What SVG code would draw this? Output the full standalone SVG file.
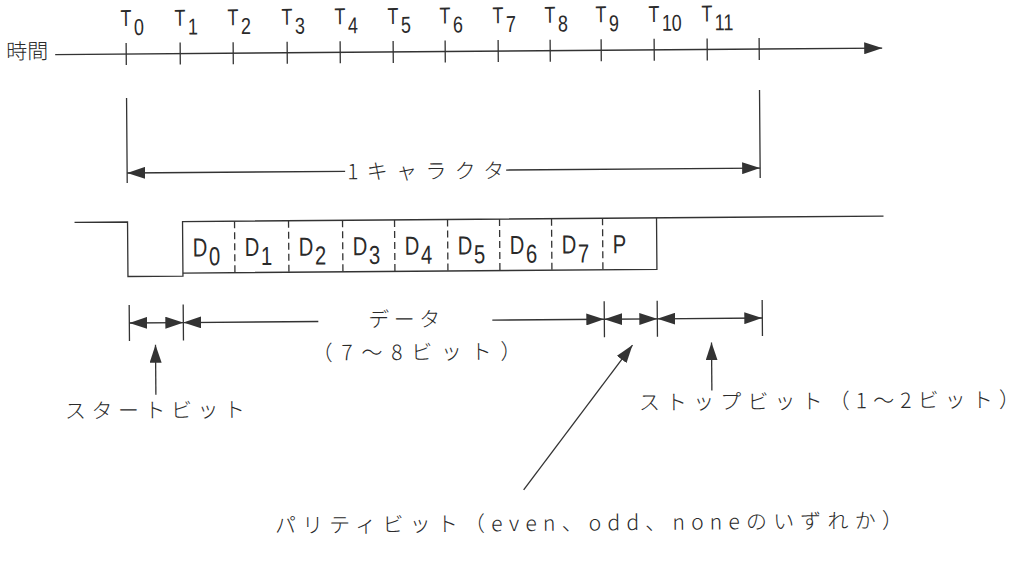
<svg xmlns="http://www.w3.org/2000/svg" width="1021" height="563" viewBox="0 0 1021 563">
<defs>
<marker id="ah" viewBox="0 0 18 12" refX="18" refY="6" markerWidth="18" markerHeight="12" markerUnits="userSpaceOnUse" orient="auto-start-reverse"><path d="M0,0 L18,6 L0,12 z" fill="#333"/></marker>
</defs>
<style>
.ln{stroke:#333;stroke-width:1.3;fill:none}
.dash{stroke:#333;stroke-width:1.3;stroke-dasharray:7 4;fill:none}
.arr{stroke:#333;stroke-width:1.3;fill:none;marker-end:url(#ah)}
.arr2{stroke:#333;stroke-width:1.3;fill:none;marker-start:url(#ah);marker-end:url(#ah)}
.arrs{stroke:#333;stroke-width:1.3;fill:none;marker-start:url(#ah)}
.jp{font-family:"Noto Sans CJK JP","Noto Sans",sans-serif;font-size:21px;font-weight:300;fill:#2a2a2a}
.tl{font-family:"Liberation Sans",Arial,sans-serif;font-size:23px;fill:#2a2a2a}
</style>
<rect width="1021" height="563" fill="#fff"/>
<g transform="rotate(-0.45 510 280)">
<g id="time-axis">
<text class="jp" x="8" y="55" textLength="42" lengthAdjust="spacingAndGlyphs">時間</text>
<path class="ln" d="M128,40V62M182,40V62M235,40V62M289,40V62M342,40V62M395,40V62M447,40V62M500,40V62M552,40V62M603,40V62M656,40V62M709,40V62M761,40V62"/>
</g>
<g id="time-labels">
<text class="tl" transform="translate(128 0) scale(.78 1)" x="-7" y="23">T<tspan dy="9" dx="3">0</tspan></text>
<text class="tl" transform="translate(182 0) scale(.78 1)" x="-7" y="23">T<tspan dy="9" dx="3">1</tspan></text>
<text class="tl" transform="translate(235 0) scale(.78 1)" x="-7" y="23">T<tspan dy="9" dx="3">2</tspan></text>
<text class="tl" transform="translate(289 0) scale(.78 1)" x="-7" y="23">T<tspan dy="9" dx="3">3</tspan></text>
<text class="tl" transform="translate(342 0) scale(.78 1)" x="-7" y="23">T<tspan dy="9" dx="3">4</tspan></text>
<text class="tl" transform="translate(395 0) scale(.78 1)" x="-7" y="23">T<tspan dy="9" dx="3">5</tspan></text>
<text class="tl" transform="translate(447 0) scale(.78 1)" x="-7" y="23">T<tspan dy="9" dx="3">6</tspan></text>
<text class="tl" transform="translate(500 0) scale(.78 1)" x="-7" y="23">T<tspan dy="9" dx="3">7</tspan></text>
<text class="tl" transform="translate(552 0) scale(.78 1)" x="-7" y="23">T<tspan dy="9" dx="3">8</tspan></text>
<text class="tl" transform="translate(603 0) scale(.78 1)" x="-7" y="23">T<tspan dy="9" dx="3">9</tspan></text>
<text class="tl" transform="translate(656 0) scale(.78 1)" x="-7" y="23">T<tspan dy="9" dx="3">10</tspan></text>
<text class="tl" transform="translate(709 0) scale(.78 1)" x="-7" y="23">T<tspan dy="9" dx="3">11</tspan></text>
</g>
<g id="char-span">
<path class="ln" d="M128,95V180M761,92V180"/>
<text class="jp" x="348" y="178" textLength="157" lengthAdjust="spacing">1キャラクタ</text>
</g>
<g id="signal">
<path class="ln" d="M75,219H128V273.5H183V219H884"/>
<path class="ln" d="M183,270.5H657V219"/>
<path class="dash" d="M235,219V270.5M289,219V270.5M343,219V270.5M395,219V270.5M448,219V270.5M500,219V270.5M552,219V270.5M603,219V270.5"/>
</g>
<g id="bit-labels">
<text class="tl" transform="translate(193 0) scale(.78 1)" y="254" style="font-size:26px">D<tspan dy="9" dx="2">0</tspan></text>
<text class="tl" transform="translate(245 0) scale(.78 1)" y="254" style="font-size:26px">D<tspan dy="9" dx="2">1</tspan></text>
<text class="tl" transform="translate(299 0) scale(.78 1)" y="254" style="font-size:26px">D<tspan dy="9" dx="2">2</tspan></text>
<text class="tl" transform="translate(353 0) scale(.78 1)" y="254" style="font-size:26px">D<tspan dy="9" dx="2">3</tspan></text>
<text class="tl" transform="translate(405 0) scale(.78 1)" y="254" style="font-size:26px">D<tspan dy="9" dx="2">4</tspan></text>
<text class="tl" transform="translate(458 0) scale(.78 1)" y="254" style="font-size:26px">D<tspan dy="9" dx="2">5</tspan></text>
<text class="tl" transform="translate(510 0) scale(.78 1)" y="254" style="font-size:26px">D<tspan dy="9" dx="2">6</tspan></text>
<text class="tl" transform="translate(562 0) scale(.78 1)" y="254" style="font-size:26px">D<tspan dy="9" dx="2">7</tspan></text>
<text class="tl" transform="translate(613 0) scale(.78 1)" y="254" style="font-size:26px">P</text>
</g>
<g id="dim-ticks">
<path class="ln" d="M129,302V338M183,302V338M604,302V338M657,302V338M762,302V338"/>
</g>
<g id="data-label">
<text class="jp" x="368" y="326" textLength="72" lengthAdjust="spacing">データ</text>
<text class="jp" x="311" y="359" textLength="210" lengthAdjust="spacing">（7～8ビット）</text>
</g>
<g id="start-bit">
<text class="jp" x="64" y="415" textLength="180" lengthAdjust="spacing">スタートビット</text>
</g>
<g id="stop-bit">
<text class="jp" x="638" y="411" textLength="381" lengthAdjust="spacing">ストップビット（1～2ビット）</text>
</g>
<g id="parity-bit">
<text class="jp" x="273" y="531" textLength="628" lengthAdjust="spacing">パリティビット（even、odd、noneのいずれか）</text>
</g>
<g id="connectors">
<path class="arr" d="M57,51H884"/>
<path class="arrs" d="M128,170H346"/>
<path class="arr" d="M507,170H761"/>
<path class="arr2" d="M129,320H183"/>
<path class="arrs" d="M183,320H318"/>
<path class="arr" d="M492,320H604"/>
<path class="arr2" d="M604,320H657"/>
<path class="arr2" d="M657,320H762"/>
<path class="arr" d="M155,392V342"/>
<path class="arr" d="M711,392V344"/>
<path class="arr" d="M522,490L632,346"/>
</g>
</g>
</svg>
